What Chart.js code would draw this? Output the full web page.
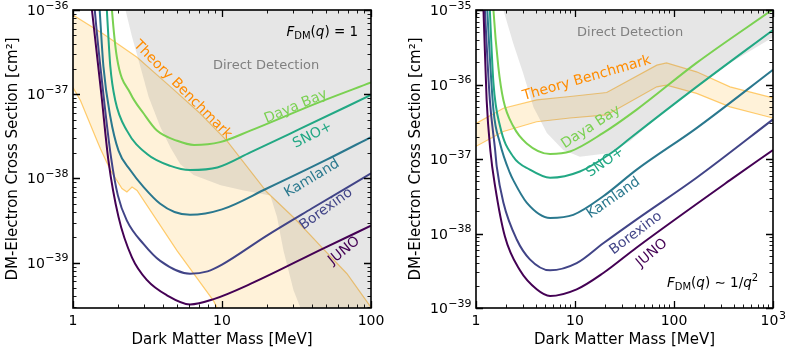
<!DOCTYPE html>
<html>
<head>
<meta charset="utf-8">
<script src="https://cdn.jsdelivr.net/npm/chart.js@4.4.0/dist/chart.umd.min.js"></script>
<style>
  body { margin: 0; background: #fff; }
  #wrap { position: relative; width: 793px; height: 353px; }
  canvas { position: absolute; top: 0; }
</style>
</head>
<body>
<div id="wrap">
  <canvas id="left" width="400" height="353" style="left:0"></canvas>
  <canvas id="right" width="393" height="353" style="left:400px"></canvas>
</div>
<script>
// Experiments and their colours (viridis)
const curveNames = ["JUNO", "Borexino", "Kamland", "SNO+", "Daya Bay"];
const curveColors = ["#440154", "#414487", "#2a788e", "#22a884", "#7ad151"];

// ---- Left panel: F_DM(q) = 1  (mass in MeV, cross section in cm^2)
const leftJunoMass = [1.3, 1.34, 1.55, 1.73, 2.02, 2.49, 3.14, 4.27, 6.1, 8.8, 15.5, 48, 100];
const leftJunoSigma = [1.58e-36, 1.0e-36, 1.0e-37, 1.62e-38, 3.5e-39, 1.15e-39, 6.2e-40, 4.1e-40, 3.2e-40, 3.7e-40, 5.6e-40, 1.48e-39, 2.75e-39];
const leftBorexinoMass = [1.36, 1.4, 1.6, 1.8, 2.0, 2.3, 2.98, 3.85, 6.1, 8, 10, 20, 40, 100];
const leftBorexinoSigma = [2.0e-36, 1.0e-36, 1.0e-37, 1.78e-38, 6.3e-39, 3.16e-39, 1.66e-39, 1.05e-39, 7.4e-40, 7.9e-40, 9.5e-40, 2.1e-39, 4.4e-39, 1.15e-38];
const leftKamlandMass = [1.47, 1.51, 1.6, 1.78, 2.02, 2.42, 2.98, 3.85, 4.8, 6.1, 10, 20, 50, 100];
const leftKamlandSigma = [2.0e-36, 1.0e-36, 2.14e-37, 5.4e-38, 2.14e-38, 1.26e-38, 7.9e-39, 5.0e-39, 4.0e-39, 3.7e-39, 4.3e-39, 7.6e-39, 1.66e-38, 3.1e-38];
const leftSnoMass = [1.65, 1.69, 1.78, 1.92, 2.3, 3.14, 4.5, 6.1, 9.3, 15.5, 33.6, 100];
const leftSnoSigma = [2.0e-36, 9.5e-37, 2.14e-37, 8.5e-38, 3.7e-38, 1.95e-38, 1.41e-38, 1.26e-38, 1.35e-38, 2.04e-38, 3.9e-38, 9.8e-38];
const leftDayaMass = [1.78, 1.83, 1.97, 2.43, 2.98, 3.66, 5, 6.5, 9.7, 15.5, 43, 100];
const leftDayaSigma = [2.0e-36, 9.5e-37, 2.75e-37, 1.02e-37, 5.9e-38, 3.7e-38, 2.8e-38, 2.5e-38, 2.7e-38, 3.7e-38, 7.8e-38, 1.38e-37];

const leftTheoryUpperMass = [1, 1.6, 2.69, 4.5, 7.15, 10.8, 20, 31, 48, 69, 100];
const leftTheoryUpperSigma = [8.7e-37, 5.2e-37, 2.75e-37, 1.23e-37, 5.9e-38, 2.8e-38, 6.9e-39, 3.3e-39, 1.45e-39, 7.4e-40, 2.95e-40];
const leftTheoryLowerMass = [1, 1.12, 1.45, 1.53, 1.78, 2.13, 2.3, 2.49, 2.69, 5, 8.8, 10, 100];
const leftTheoryLowerSigma = [1.2e-37, 8.5e-38, 2.8e-38, 2.24e-38, 1.26e-38, 7.6e-39, 6.9e-39, 7.9e-39, 7.2e-39, 1.38e-39, 3.5e-40, 2.2e-40, 1e-41];

const leftDirectMass = [2.2, 2.25, 2.49, 2.83, 3.22, 3.85, 4.5, 5.25, 6.45, 9.8, 14, 21.1, 23.4, 25.9, 30.2, 33.5, 36, 100];
const leftDirectSigma = [3.16e-36, 1e-36, 4.8e-37, 2.14e-37, 9.3e-38, 4.1e-38, 2.34e-38, 1.48e-38, 1.1e-38, 8.3e-39, 7.2e-39, 6.3e-39, 3.5e-39, 1.38e-39, 4.7e-40, 2.95e-40, 1.6e-40, 1e-41];

// ---- Right panel: F_DM(q) ~ 1/q^2
const rightJunoMass = [1.16, 1.19, 1.28, 1.4, 1.56, 1.96, 2.78, 4.1, 5.6, 10.4, 19.3, 42, 368, 1000];
const rightJunoSigma = [2e-35, 1e-35, 6.3e-37, 1.26e-37, 4.3e-38, 9.1e-39, 3.2e-39, 1.78e-39, 1.45e-39, 1.78e-39, 2.95e-39, 6.5e-39, 5.2e-38, 1.32e-37];
const rightBorexinoMass = [1.2, 1.23, 1.38, 1.56, 1.62, 1.89, 2.58, 3.5, 5.6, 10.4, 19.3, 42, 169, 1000];
const rightBorexinoSigma = [2e-35, 1e-35, 6.2e-37, 1.32e-37, 7.9e-38, 2.6e-38, 8.3e-39, 4.5e-39, 3.2e-39, 4.0e-39, 7.4e-39, 1.55e-38, 5.6e-38, 3.4e-37];
const rightKamlandMass = [1.27, 1.3, 1.5, 1.75, 2.2, 2.38, 3.25, 5.6, 9.6, 19.3, 42, 169, 1000];
const rightKamlandSigma = [2e-35, 1e-35, 4.6e-37, 1.62e-37, 6.5e-38, 5.2e-38, 2.6e-38, 1.62e-38, 1.78e-38, 3.16e-38, 7.2e-38, 2.6e-37, 1.58e-36];
const rightSnoMass = [1.35, 1.38, 1.5, 1.75, 2.38, 3.5, 5.6, 11.2, 24.4, 36, 169, 1000];
const rightSnoSigma = [2e-35, 1e-35, 1.05e-36, 2.75e-37, 1.07e-37, 7.2e-38, 5.6e-38, 6.8e-38, 1.26e-37, 1.9e-37, 9.3e-37, 5.4e-36];
const rightDayaMass = [1.46, 1.5, 1.68, 1.89, 2.38, 3.25, 5.6, 8.9, 19.3, 42, 169, 1000];
const rightDayaSigma = [2e-35, 1e-35, 1.74e-36, 6.2e-37, 2.75e-37, 1.62e-37, 1.17e-37, 1.26e-37, 2.24e-37, 4.6e-37, 1.95e-36, 1.02e-35];

const rightTheoryMass = [1, 1.89, 4.1, 8.9, 20.9, 67, 84, 169, 368, 1000];
const rightTheoryUpperSigma = [3.0e-37, 4.8e-37, 6.2e-37, 6.9e-37, 7.8e-37, 1.82e-36, 1.95e-36, 1.48e-36, 9.3e-37, 6.6e-37];
const rightTheoryLowerSigma = [1.48e-37, 2.34e-37, 3.16e-37, 3.55e-37, 3.9e-37, 9.3e-37, 9.8e-37, 7.6e-37, 5.0e-37, 3.55e-37];

const rightDirectMass = [1.85, 1.89, 2.38, 3.0, 3.8, 5.2, 7.6, 11.2, 22.6, 36, 78, 169, 368, 1000];
const rightDirectSigma = [3.16e-35, 1e-35, 3.55e-36, 1.41e-36, 5.0e-37, 2.24e-37, 1.32e-37, 1.07e-37, 1.2e-37, 1.74e-37, 4.2e-37, 9.3e-37, 1.95e-36, 4.3e-36];

// Tick labels: [base, superscript]
const leftXTicks = [1, 10, 100];
const leftXLabels = [["1", ""], ["10", ""], ["100", ""]];
const leftYTicks = [1e-39, 1e-38, 1e-37, 1e-36];
const leftYLabels = [["10", "\u221239"], ["10", "\u221238"], ["10", "\u221237"], ["10", "\u221236"]];
const rightXTicks = [1, 10, 100, 1000];
const rightXLabels = [["1", ""], ["10", ""], ["100", ""], ["10", "3"]];
const rightYTicks = [1e-39, 1e-38, 1e-37, 1e-36, 1e-35];
const rightYLabels = [["10", "\u221239"], ["10", "\u221238"], ["10", "\u221237"], ["10", "\u221236"], ["10", "\u221235"]];

const FONT = "'DejaVu Sans', sans-serif";

function pts(mass, sigma) {
  return mass.map((m, i) => ({ x: m, y: sigma[i] }));
}

// every 1..9 x 10^k inside the scale range
function logSteps(min, max) {
  const out = [];
  for (let k = Math.floor(Math.log10(min)); k <= Math.ceil(Math.log10(max)); k++) {
    for (let j = 1; j < 10; j++) {
      const v = j * Math.pow(10, k);
      if (v >= min * 0.999 && v <= max * 1.001) out.push({ v: v, major: j === 1 });
    }
  }
  return out;
}

function drawPower(ctx, base, sup, x, baseline, align) {
  ctx.font = "14px " + FONT;
  const wb = ctx.measureText(base).width;
  ctx.font = "11px " + FONT;
  const ws = sup ? ctx.measureText(sup).width : 0;
  const total = wb + ws;
  let x0 = x;
  if (align === "center") x0 = x - total / 2;
  if (align === "right") x0 = x - total;
  ctx.textAlign = "left";
  ctx.textBaseline = "alphabetic";
  ctx.font = "14px " + FONT;
  ctx.fillText(base, x0, baseline);
  if (sup) {
    ctx.font = "11px " + FONT;
    ctx.fillText(sup, x0 + wb + 0.5, baseline - 6.5);
  }
}

// mathtext-like pieces, right aligned
function drawFormula(ctx, parts, xRight, baseline) {
  let total = 0;
  parts.forEach(p => {
    ctx.font = (p.italic ? "italic " : "") + (p.size || 13.5) + "px " + FONT;
    p.w = ctx.measureText(p.t).width;
    total += p.w;
  });
  let x = xRight - total;
  ctx.textAlign = "left";
  ctx.textBaseline = "alphabetic";
  ctx.fillStyle = "#000";
  parts.forEach(p => {
    ctx.font = (p.italic ? "italic " : "") + (p.size || 13.5) + "px " + FONT;
    ctx.fillText(p.t, x, baseline + (p.dy || 0));
    x += p.w;
  });
}

const axesDecor = {
  id: "axesDecor",
  afterDatasetsDraw(chart, args, o) {
    const { ctx, chartArea: a } = chart;
    const xs = chart.scales.x, ys = chart.scales.y;
    const w = a.right - a.left, h = a.bottom - a.top;
    ctx.save();

    // annotations
    o.texts.forEach(t => {
      ctx.save();
      ctx.translate(a.left + t.fx * w, a.top + t.fy * h);
      ctx.rotate(t.rot * Math.PI / 180);
      ctx.font = (t.size || 14) + "px " + FONT;
      ctx.fillStyle = t.color;
      ctx.textAlign = "center";
      ctx.textBaseline = "middle";
      ctx.fillText(t.text, 0, 0);
      ctx.restore();
    });
    drawFormula(ctx, o.formula, a.left + o.formulaPos[0] * w, a.top + o.formulaPos[1] * h);

    // inward ticks on all four sides
    ctx.strokeStyle = "#000";
    [false, true].forEach(major => {
      ctx.lineWidth = major ? 1.3 : 0.9;
      const len = major ? 7 : 3.5;
      ctx.beginPath();
      logSteps(xs.min, xs.max).filter(t => t.major === major).forEach(t => {
        const px = Math.round(xs.getPixelForValue(t.v)) + 0.5;
        ctx.moveTo(px, a.bottom); ctx.lineTo(px, a.bottom - len);
        ctx.moveTo(px, a.top); ctx.lineTo(px, a.top + len);
      });
      logSteps(ys.min, ys.max).filter(t => t.major === major).forEach(t => {
        const py = Math.round(ys.getPixelForValue(t.v)) + 0.5;
        ctx.moveTo(a.left, py); ctx.lineTo(a.left + len, py);
        ctx.moveTo(a.right, py); ctx.lineTo(a.right - len, py);
      });
      ctx.stroke();
    });
    ctx.lineWidth = 1.6;
    ctx.strokeRect(a.left, a.top, w, h);

    // tick labels
    ctx.fillStyle = "#000";
    o.xTicks.forEach((v, i) => {
      drawPower(ctx, o.xLabels[i][0], o.xLabels[i][1], xs.getPixelForValue(v), a.bottom + 17, "center");
    });
    o.yTicks.forEach((v, i) => {
      drawPower(ctx, o.yLabels[i][0], o.yLabels[i][1], a.left - 5, ys.getPixelForValue(v) + 5, "right");
    });
    ctx.restore();
  }
};

function curveSets(series) {
  return series.map((s, i) => ({
    label: curveNames[i],
    data: pts(s[0], s[1]),
    borderColor: curveColors[i],
    borderWidth: 2,
    pointRadius: 0,
    fill: false,
    cubicInterpolationMode: "monotone",
    order: 0
  }));
}

function makeChart(id, p) {
  const datasets = curveSets(p.curves).concat([
    {
      label: "Direct Detection",
      data: pts(p.direct[0], p.direct[1]),
      borderColor: "rgba(0,0,0,0)",
      borderWidth: 1,
      backgroundColor: "rgba(128,128,128,0.2)",
      pointRadius: 0,
      fill: "end",
      tension: 0,
      order: 1
    },
    {
      label: "Theory Benchmark",
      data: pts(p.theoryUpper[0], p.theoryUpper[1]),
      borderColor: "rgba(255,165,0,0.55)",
      borderWidth: 1.2,
      backgroundColor: "rgba(255,165,0,0.15)",
      pointRadius: 0,
      fill: "+1",
      tension: 0,
      order: 2
    },
    {
      label: "Theory Benchmark (lower)",
      data: pts(p.theoryLower[0], p.theoryLower[1]),
      borderColor: "rgba(255,165,0,0.55)",
      borderWidth: 1.2,
      pointRadius: 0,
      fill: false,
      tension: 0,
      order: 2
    }
  ]);

  return new Chart(document.getElementById(id), {
    type: "line",
    data: { datasets: datasets },
    plugins: [axesDecor],
    options: {
      responsive: false,
      animation: false,
      devicePixelRatio: 1,
      layout: { padding: { left: 0, right: p.padRight, top: 10, bottom: 0 } },
      plugins: {
        legend: { display: false },
        tooltip: { enabled: false },
        axesDecor: {
          xTicks: p.xTicks, xLabels: p.xLabels,
          yTicks: p.yTicks, yLabels: p.yLabels,
          texts: p.texts, formula: p.formula, formulaPos: p.formulaPos
        }
      },
      scales: {
        x: {
          type: "logarithmic",
          min: p.xMin, max: p.xMax,
          grid: { display: false },
          border: { display: false },
          ticks: { display: false },
          title: { display: true, text: "Dark Matter Mass [MeV]", color: "#000",
                   font: { family: FONT, size: 15 }, padding: { top: 0, bottom: 4 } },
          afterFit(scale) { scale.height = 45; }
        },
        y: {
          type: "logarithmic",
          min: p.yMin, max: p.yMax,
          grid: { display: false },
          border: { display: false },
          ticks: { display: false },
          title: { display: true, text: "DM-Electron Cross Section [cm\u00b2]", color: "#000",
                   font: { family: FONT, size: 15 }, padding: { top: p.titlePad, bottom: 0 } },
          afterFit(scale) { scale.width = p.axisWidth; }
        }
      }
    }
  });
}

makeChart("left", {
  curves: [[leftJunoMass, leftJunoSigma], [leftBorexinoMass, leftBorexinoSigma],
           [leftKamlandMass, leftKamlandSigma], [leftSnoMass, leftSnoSigma], [leftDayaMass, leftDayaSigma]],
  direct: [leftDirectMass, leftDirectSigma],
  theoryUpper: [leftTheoryUpperMass, leftTheoryUpperSigma],
  theoryLower: [leftTheoryLowerMass, leftTheoryLowerSigma],
  xMin: 1, xMax: 100, yMin: 2.9e-40, yMax: 1e-36,
  xTicks: leftXTicks, xLabels: leftXLabels, yTicks: leftYTicks, yLabels: leftYLabels,
  padRight: 29, axisWidth: 73, titlePad: 4,
  texts: [
    { text: "Direct Detection", fx: 0.648, fy: 0.185, rot: 0, color: "#808080", size: 13 },
    { text: "Theory Benchmark", fx: 0.368, fy: 0.268, rot: 45, color: "#ff8c00", size: 14 },
    { text: "Daya Bay", fx: 0.748, fy: 0.324, rot: -23, color: curveColors[4] },
    { text: "SNO+", fx: 0.804, fy: 0.42, rot: -27, color: curveColors[3] },
    { text: "Kamland", fx: 0.802, fy: 0.565, rot: -31, color: curveColors[2] },
    { text: "Borexino", fx: 0.849, fy: 0.668, rot: -36, color: curveColors[1] },
    { text: "JUNO", fx: 0.91, fy: 0.808, rot: -39, color: curveColors[0] }
  ],
  formula: [
    { t: "F", italic: true }, { t: "DM", size: 10, dy: 3 }, { t: "(" }, { t: "q", italic: true },
    { t: ")" }, { t: " = 1" }
  ],
  formulaPos: [0.957, 0.088]
});

makeChart("right", {
  curves: [[rightJunoMass, rightJunoSigma], [rightBorexinoMass, rightBorexinoSigma],
           [rightKamlandMass, rightKamlandSigma], [rightSnoMass, rightSnoSigma], [rightDayaMass, rightDayaSigma]],
  direct: [rightDirectMass, rightDirectSigma],
  theoryUpper: [rightTheoryMass, rightTheoryUpperSigma],
  theoryLower: [rightTheoryMass, rightTheoryLowerSigma],
  xMin: 1, xMax: 1000, yMin: 1e-39, yMax: 1e-35,
  xTicks: rightXTicks, xLabels: rightXLabels, yTicks: rightYTicks, yLabels: rightYLabels,
  padRight: 20, axisWidth: 76, titlePad: 7,
  texts: [
    { text: "Direct Detection", fx: 0.519, fy: 0.076, rot: 0, color: "#808080", size: 13 },
    { text: "Theory Benchmark", fx: 0.373, fy: 0.229, rot: -16, color: "#ff8c00", size: 14 },
    { text: "Daya Bay", fx: 0.387, fy: 0.393, rot: -33, color: curveColors[4] },
    { text: "SNO+", fx: 0.435, fy: 0.511, rot: -35, color: curveColors[3] },
    { text: "Kamland", fx: 0.463, fy: 0.631, rot: -35, color: curveColors[2] },
    { text: "Borexino", fx: 0.538, fy: 0.749, rot: -37, color: curveColors[1] },
    { text: "JUNO", fx: 0.592, fy: 0.816, rot: -40, color: curveColors[0] }
  ],
  formula: [
    { t: "F", italic: true }, { t: "DM", size: 10, dy: 3 }, { t: "(" }, { t: "q", italic: true },
    { t: ")" }, { t: " \u223c 1/" }, { t: "q", italic: true }, { t: "2", size: 10, dy: -6 }
  ],
  formulaPos: [0.95, 0.928]
});
</script>
</body>
</html>
